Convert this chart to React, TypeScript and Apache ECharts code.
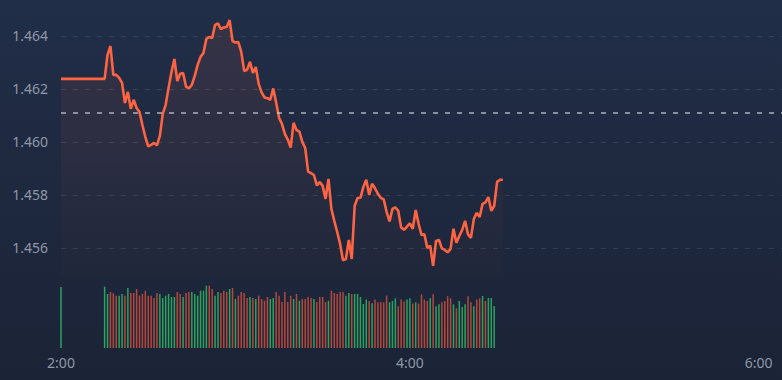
import React, { useEffect, useRef } from "react";
import * as echarts from "echarts";

// ---- data ----
const openMinute = 120; // 2:00
const openPrice = 1.46238;
const openVolume = 610;
const openSide = "G";
const startMinute = 135; // 2:15, one point per minute afterwards
const prevClose = 1.4611;

const prices = [
  1.46238, 1.46328, 1.46362, 1.46253, 1.46253, 1.46242, 1.46223, 1.46147, 1.46189, 1.46125,
  1.46159, 1.46128, 1.46113, 1.46064, 1.46019, 1.45983, 1.45989, 1.45996, 1.45987, 1.46023,
  1.46106, 1.4614, 1.46204, 1.46264, 1.46313, 1.4623, 1.46257, 1.4626, 1.46209, 1.46202,
  1.46215, 1.46249, 1.46291, 1.46321, 1.46336, 1.46389, 1.46396, 1.46392, 1.46442, 1.46447,
  1.46426, 1.46432, 1.46434, 1.4646, 1.46381, 1.46375, 1.46377, 1.4634, 1.46268, 1.46272,
  1.46302, 1.4626, 1.46283, 1.46219, 1.46187, 1.46168, 1.46165, 1.46159, 1.46202, 1.46149,
  1.46091, 1.46068, 1.4603, 1.46009, 1.45979, 1.46072, 1.46045, 1.46039, 1.46, 1.45977,
  1.45888, 1.45882, 1.45875, 1.45836, 1.45849, 1.45834, 1.45785, 1.4586, 1.45747, 1.45702,
  1.4566, 1.45615, 1.45553, 1.45558, 1.4563, 1.45558, 1.45758, 1.45788, 1.45789, 1.4583,
  1.45857, 1.458, 1.45842, 1.45825, 1.45804, 1.45789, 1.45783, 1.45736, 1.457, 1.45747,
  1.45753, 1.4574, 1.45677, 1.45668, 1.4568, 1.45692, 1.45672, 1.45743, 1.45691, 1.45649,
  1.45651, 1.456, 1.45608, 1.45532, 1.45626, 1.4563, 1.45598, 1.45592, 1.45583, 1.45596,
  1.45672, 1.45619, 1.45645, 1.45668, 1.45702, 1.45651, 1.45638, 1.45709, 1.45732, 1.45717,
  1.45766, 1.45772, 1.45792, 1.4574, 1.45758, 1.45849, 1.45857, 1.45857,
];

const volumes = [
  613, 540, 560, 547, 523, 523, 540, 523, 600, 550,
  550, 590, 523, 540, 573, 523, 523, 500, 550, 540,
  500, 523, 540, 510, 510, 560, 540, 510, 550, 560,
  560, 540, 523, 573, 573, 623, 623, 590, 523, 560,
  550, 573, 560, 590, 600, 490, 523, 560, 550, 500,
  510, 500, 490, 523, 490, 473, 510, 490, 500, 560,
  523, 460, 560, 460, 523, 490, 540, 473, 490, 490,
  510, 500, 490, 460, 510, 510, 460, 473, 573, 550,
  540, 560, 560, 523, 550, 540, 540, 540, 510, 440,
  484, 470, 447, 484, 457, 457, 457, 524, 457, 470,
  497, 417, 484, 464, 484, 497, 444, 457, 444, 537,
  484, 470, 497, 537, 417, 437, 457, 470, 517, 497,
  437, 397, 470, 410, 437, 517, 457, 417, 484, 497,
  520, 470, 500, 500, 420,
];

// G = up (green), R = down (red), one per volume bar
const volumeSides =
  "GGRRRGGRGR" + "RRRRRRRRRG" + "GGGGGRRGRR" + "GGGGGGRRGG" + "RRRGRGRRRR" +
  "GRGRRRRGGR" + "RRRRRGRGRR" + "RRGRRRRGRR" + "RRRGGRGGGG" + "GRGRRRRRGG" +
  "GRRRGGRGRR" + "RRGRGGRRRR" + "GRGGGRRGRR" + "GRGGG";

const axisMinMinute = 120; // 2:00
const axisMaxMinute = 368;
const tickStepMinutes = 120;
const priceMin = 1.4549;
const priceMax = 1.46498;
const volumeMax = 650;

// ---- styles ----
const LINE = "#ff6442";
const GREEN = "#2ba35e";
const RED = "#b4483c";
const LABEL = "#8e98a8";
const FONT = "Noto Sans";

function fmtMinute(v: number): string {
  const h = Math.floor(v / 60);
  const m = Math.round(v % 60);
  return `${h}:${m < 10 ? "0" + m : m}`;
}

export default function App() {
  const ref = useRef<HTMLDivElement>(null);
  useEffect(() => {
    if (!ref.current) return;
    const chart = echarts.init(ref.current, undefined, { renderer: "svg" });

    const lineData: [number, number][] = [[openMinute, openPrice]];
    prices.forEach((p, i) => lineData.push([startMinute + i, p]));

    const barData: any[] = [
      { value: [openMinute, openVolume], itemStyle: { color: openSide === "G" ? GREEN : RED } },
    ];
    volumes.forEach((v, i) =>
      barData.push({
        value: [startMinute + i, v],
        itemStyle: { color: volumeSides[i] === "G" ? GREEN : RED },
      })
    );

    const xLabel = {
      color: LABEL,
      fontSize: 14,
      fontFamily: FONT,
      margin: 7,
      showMaxLabel: false,
      formatter: (v: number) =>
        v % tickStepMinutes === 0 && v <= 360 ? fmtMinute(v) : "",
    };

    chart.setOption({
      animation: false,
      backgroundColor: "transparent",
      grid: [
        { left: 61, right: 0, top: 10, height: 267 },
        { left: 61, right: 0, top: 283, height: 65 },
      ],
      xAxis: [
        {
          type: "value",
          gridIndex: 0,
          min: axisMinMinute,
          max: axisMaxMinute,
          interval: tickStepMinutes,
          axisLine: { show: false },
          axisTick: { show: false },
          axisLabel: { show: false },
          splitLine: { show: false },
        },
        {
          type: "value",
          gridIndex: 1,
          min: axisMinMinute,
          max: axisMaxMinute,
          interval: tickStepMinutes,
          axisLine: { show: false },
          axisTick: { show: false },
          axisLabel: xLabel,
          splitLine: { show: false },
        },
      ],
      yAxis: [
        {
          type: "value",
          gridIndex: 0,
          min: priceMin,
          max: priceMax,
          splitNumber: 5,
          axisLine: { show: false },
          axisTick: { show: false },
          axisLabel: {
            color: LABEL,
            fontSize: 14,
            fontFamily: FONT,
            margin: 13,
            showMinLabel: false,
            showMaxLabel: false,
            formatter: (v: number) => v.toFixed(3),
          },
          splitLine: {
            show: true,
            showMinLine: false,
            showMaxLine: false,
            lineStyle: { color: "rgba(255,255,255,0.11)", type: [5, 7], width: 1 },
          },
        },
        {
          type: "value",
          gridIndex: 1,
          min: 0,
          max: volumeMax,
          show: false,
          splitLine: { show: false },
        },
      ],
      series: [
        {
          type: "line",
          xAxisIndex: 0,
          yAxisIndex: 0,
          data: lineData,
          showSymbol: false,
          symbol: "none",
          lineStyle: { color: LINE, width: 2.6 },
          areaStyle: {
            origin: "start",
            color: new echarts.graphic.LinearGradient(0, 0, 0, 1, [
              { offset: 0, color: "rgba(255,100,66,0.14)" },
              { offset: 1, color: "rgba(255,100,66,0.02)" },
            ]),
          },
          markLine: {
            silent: true,
            precision: 5,
            symbol: ["none", "none"],
            label: { show: false },
            lineStyle: { color: "rgba(215,220,230,0.75)", type: [5, 7], width: 1.5 },
            data: [{ yAxis: prevClose }],
          },
          z: 3,
        },
        {
          type: "bar",
          xAxisIndex: 1,
          yAxisIndex: 1,
          data: barData,
          barWidth: 1.5,
        },
      ],
    });
    return () => chart.dispose();
  }, []);

  return (
    <div
      style={{
        position: "fixed",
        left: 0,
        top: 0,
        width: 782,
        height: 380,
        background: "linear-gradient(180deg, #212e48 0%, #1b2336 100%)",
      }}
    >
      <div ref={ref} style={{ width: 782, height: 380 }} />
    </div>
  );
}
